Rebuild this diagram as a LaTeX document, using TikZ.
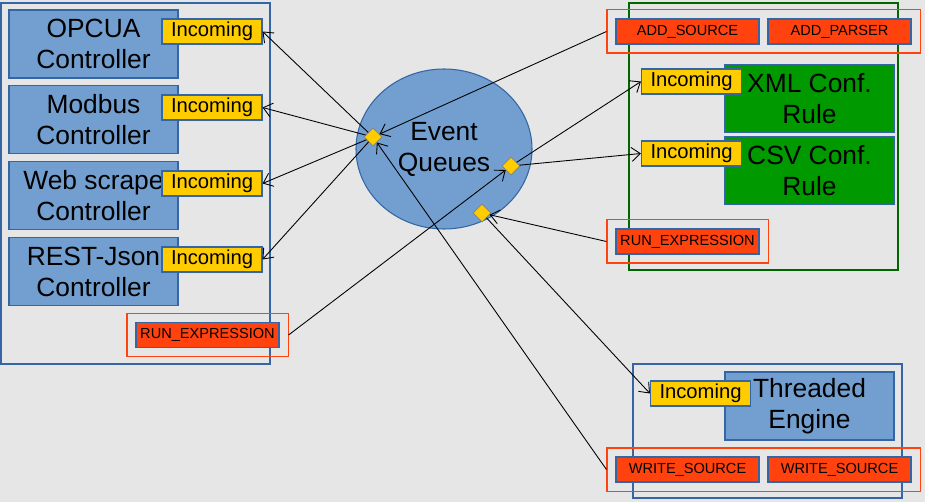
\documentclass[tikz,border=0pt]{standalone}
\usepackage{fontspec}
\setmainfont{Liberation Sans}
\usepackage{xcolor}
\definecolor{bggray}{RGB}{230,230,230}
\definecolor{ctrlblue}{RGB}{114,159,207}
\definecolor{edgeblue}{RGB}{52,101,164}
\definecolor{inyellow}{RGB}{255,204,0}
\definecolor{cmdorange}{RGB}{255,66,14}
\definecolor{rulegreen}{RGB}{0,153,0}
\definecolor{boxgreen}{RGB}{0,102,0}
\usepackage{tikz}
\usetikzlibrary{arrows.meta, positioning, shapes.geometric, fit}

\tikzset{
  bigtext/.style={font=\fontsize{15}{17.6}\selectfont},
  ctrlbox/.style={bigtext, draw=edgeblue, fill=ctrlblue, line width=0.6pt, minimum width=3.38cm, minimum height=1.36cm, inner sep=0pt, align=center},
  rulebox/.style={ctrlbox, fill=rulegreen},
  inbox/.style={draw=edgeblue, fill=inyellow, line width=0.6pt, minimum width=2.0cm, minimum height=0.5cm, inner sep=0pt, font=\fontsize{11.5}{13}\selectfont},
  cmdbox/.style={draw=edgeblue, fill=cmdorange, line width=0.6pt, minimum width=2.86cm, minimum height=0.5cm, inner sep=0pt, font=\fontsize{8.3}{10}\selectfont},
  cmdframe/.style={draw=cmdorange, line width=0.6pt, inner sep=0.17cm},
  qdot/.style={diamond, draw=gray, fill=inyellow, line width=0.4pt, minimum width=0.36cm, minimum height=0.36cm, inner sep=0pt},
  conn/.style={-{Straight Barb[length=5pt,width=8pt]}, line width=0.5pt, black}
}

\begin{document}
\begin{tikzpicture}
  % Background
  \fill[bggray] (0,0) rectangle (18.5,10.04);
  \useasboundingbox (0,0) rectangle (18.5,10.04);

  % Containers
  \draw[edgeblue, line width=0.6pt] (0.02,9.98) rectangle (5.4,2.76);
  \draw[boxgreen, line width=0.6pt] (12.58,9.98) rectangle (17.96,4.64);
  \draw[edgeblue, line width=0.6pt] (12.66,2.76) rectangle (18.04,0.08);

  % --- Left: controllers ---
  \node[ctrlbox] (opcua)  at (1.87,9.16) {OPCUA\\Controller};
  \node[ctrlbox] (modbus) at (1.87,7.65) {Modbus\\Controller};
  \node[ctrlbox] (web)    at (1.87,6.13) {Web scrape\\Controller};
  \node[ctrlbox] (rest)   at (1.87,4.61) {REST-Json\\Controller};
  \node[inbox] (inopcua)  at (4.24,9.41) {Incoming};
  \node[inbox] (inmodbus) at (4.24,7.89) {Incoming};
  \node[inbox] (inweb)    at (4.24,6.37) {Incoming};
  \node[inbox] (inrest)   at (4.24,4.85) {Incoming};
  \node[cmdbox] (lrun) at (4.15,3.34) {RUN\_EXPRESSION};
  \node[cmdframe, fit=(lrun)] (lrunf) {};

  % --- Middle: event queues ---
  \node[ellipse, draw=edgeblue, fill=ctrlblue, line width=0.6pt, minimum width=3.52cm, minimum height=3.2cm, inner sep=0pt, bigtext, align=center] (queues) at (8.88,7.06) {Event\\Queues};
  \node[qdot] (qa) at (7.46,7.30) {};
  \node[qdot] (qb) at (10.22,6.72) {};
  \node[qdot] (qc) at (9.64,5.78) {};

  % --- Right: rules ---
  \node[cmdbox] (addsrc) at (13.75,9.41) {ADD\_SOURCE};
  \node[cmdbox] (addpar) at (16.79,9.41) {ADD\_PARSER};
  \node[cmdframe, fit=(addsrc)(addpar)] (addf) {};
  \node[rulebox] (xml) at (16.19,8.07) {XML Conf.\\Rule};
  \node[rulebox] (csv) at (16.19,6.63) {CSV Conf.\\Rule};
  \node[inbox] (inxml) at (13.83,8.41) {Incoming};
  \node[inbox] (incsv) at (13.83,6.97) {Incoming};
  \node[cmdbox] (rrun) at (13.75,5.21) {RUN\_EXPRESSION};
  \node[cmdframe, fit=(rrun)] (rrunf) {};

  % --- Bottom right: engine ---
  \node[ctrlbox] (engine) at (16.19,1.92) {Threaded\\Engine};
  \node[inbox] (inengine) at (14.01,2.17) {Incoming};
  \node[cmdbox] (write1) at (13.75,0.65) {WRITE\_SOURCE};
  \node[cmdbox] (write2) at (16.79,0.65) {WRITE\_SOURCE};
  \node[cmdframe, fit=(write1)(write2)] (writef) {};

  % Connectors
  \draw[conn] (qa) -- (inopcua.east);
  \draw[conn] (qa) -- (inmodbus.east);
  \draw[conn] (qa) -- (inweb.east);
  \draw[conn] (qa) -- (inrest.east);
  \draw[conn] (addf.west) -- (qa);
  \draw[conn] (writef.west) -- (qa);
  \draw[conn] (lrunf.east) -- (qb);
  \draw[conn] (qb) -- (inxml.west);
  \draw[conn] (qb) -- (incsv.west);
  \draw[conn] (rrunf.west) -- (qc);
  \draw[conn] (qc) -- (inengine.west);
\end{tikzpicture}
\end{document}
